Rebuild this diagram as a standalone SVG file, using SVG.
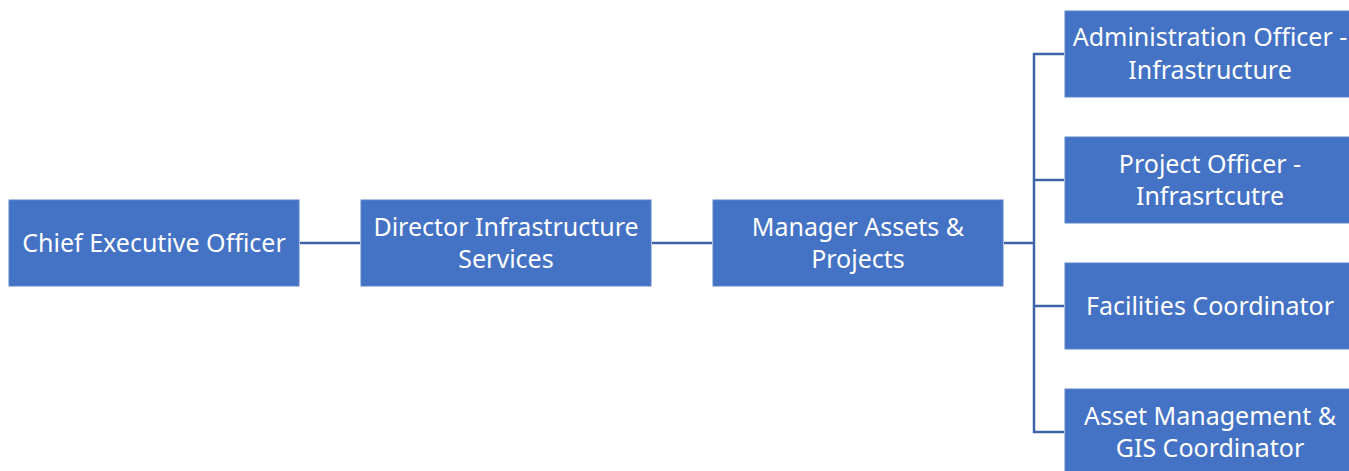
<svg xmlns="http://www.w3.org/2000/svg" width="1349" height="471" viewBox="0 0 1349 471">
<style>
.box{fill:#4472C4;stroke:#5B84CC;stroke-width:1}
.t{fill:#FFFFFF;font-family:"Noto Sans","Open Sans",sans-serif;font-size:25px;text-anchor:middle}
.c{fill:none;stroke:#3E64A8;stroke-width:2.5}
</style>
<rect width="1349" height="471" fill="#FFFFFF"/>
<g id="connectors">
<line class="c" x1="300" y1="243" x2="360" y2="243"/>
<line class="c" x1="652" y1="243" x2="712" y2="243"/>
<line class="c" x1="1004" y1="243" x2="1034" y2="243"/>
<path class="c" d="M1064,54 H1034 V432 H1064"/>
<line class="c" x1="1034" y1="180" x2="1064" y2="180"/>
<line class="c" x1="1034" y1="306" x2="1064" y2="306"/>
</g>
<g id="ceo">
<rect class="box" x="9" y="200" width="290" height="86"/>
<text class="t" x="154" y="252">Chief Executive Officer</text>
</g>
<g id="director">
<rect class="box" x="361" y="200" width="290" height="86"/>
<text class="t" x="506" y="236">Director Infrastructure</text>
<text class="t" x="506" y="268">Services</text>
</g>
<g id="manager">
<rect class="box" x="713" y="200" width="290" height="86"/>
<text class="t" x="858" y="236">Manager Assets &amp;</text>
<text class="t" x="858" y="268">Projects</text>
</g>
<g id="admin">
<rect class="box" x="1065" y="11" width="290" height="86"/>
<text class="t" x="1210" y="46">Administration Officer -</text>
<text class="t" x="1210" y="79">Infrastructure</text>
</g>
<g id="project">
<rect class="box" x="1065" y="137" width="290" height="86"/>
<text class="t" x="1210" y="173">Project Officer -</text>
<text class="t" x="1210" y="205">Infrasrtcutre</text>
</g>
<g id="facilities">
<rect class="box" x="1065" y="263" width="290" height="86"/>
<text class="t" x="1210" y="315">Facilities Coordinator</text>
</g>
<g id="asset">
<rect class="box" x="1065" y="389" width="290" height="86"/>
<text class="t" x="1210" y="425">Asset Management &amp;</text>
<text class="t" x="1210" y="457">GIS Coordinator</text>
</g>
</svg>
